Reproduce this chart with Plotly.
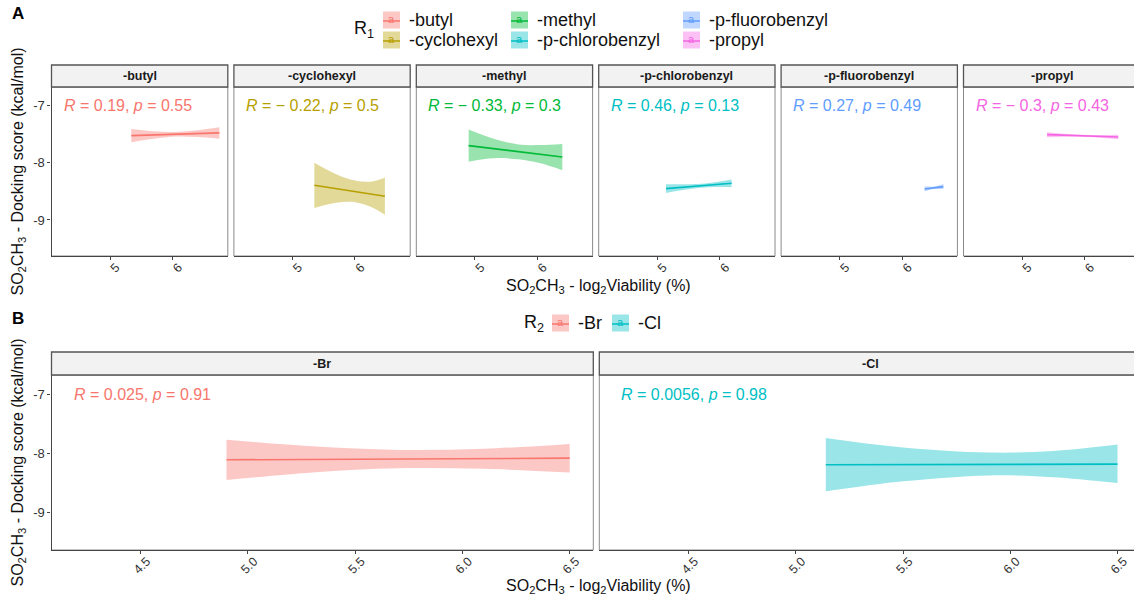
import plotly.graph_objects as go

W, H = 1134, 601

# ---------------- data ----------------
groups_A = ["-butyl", "-cyclohexyl", "-methyl", "-p-chlorobenzyl", "-p-fluorobenzyl", "-propyl"]
colors_A = ["#F8766D", "#B79F00", "#00BA38", "#00BFC4", "#619CFF", "#F564E3"]
R_A = ["0.19", "\u2212 0.22", "\u2212 0.33", "0.46", "0.27", "\u2212 0.3"]
p_A = ["0.55", "0.5", "0.3", "0.13", "0.49", "0.43"]

butyl_x   = [5.34, 5.70, 6.05, 6.40, 6.75]
butyl_fit = [-7.525, -7.513, -7.500, -7.490, -7.478]
butyl_lo  = [-7.64, -7.58, -7.54, -7.55, -7.58]
butyl_hi  = [-7.41, -7.45, -7.46, -7.43, -7.38]

cyclohexyl_x   = [5.35, 5.70, 6.00, 6.25, 6.48]
cyclohexyl_fit = [-8.393, -8.452, -8.503, -8.546, -8.585]
cyclohexyl_lo  = [-8.79, -8.70, -8.69, -8.77, -8.91]
cyclohexyl_hi  = [-8.00, -8.20, -8.31, -8.33, -8.26]

methyl_x   = [4.90, 5.30, 5.70, 6.05, 6.40]
methyl_fit = [-7.700, -7.753, -7.807, -7.853, -7.900]
methyl_lo  = [-7.98, -7.92, -7.94, -8.01, -8.13]
methyl_hi  = [-7.42, -7.58, -7.68, -7.69, -7.67]

pchloro_x   = [5.14, 5.50, 5.70, 5.95, 6.19]
pchloro_fit = [-8.452, -8.420, -8.402, -8.380, -8.358]
pchloro_lo  = [-8.527, -8.465, -8.437, -8.425, -8.423]
pchloro_hi  = [-8.377, -8.375, -8.367, -8.335, -8.293]

pfluoro_x   = [6.36, 6.51, 6.66]
pfluoro_fit = [-8.458, -8.437, -8.417]
pfluoro_lo  = [-8.50, -8.46, -8.46]
pfluoro_hi  = [-8.41, -8.415, -8.37]

propyl_x   = [5.40, 5.97, 6.54]
propyl_fit = [-7.507, -7.528, -7.548]
propyl_lo  = [-7.555, -7.544, -7.588]
propyl_hi  = [-7.465, -7.512, -7.512]

groups_B = ["-Br", "-Cl"]
colors_B = ["#F8766D", "#00BFC4"]
R_B = ["0.025", "0.0056"]
p_B = ["0.91", "0.98"]

br_x   = [4.90, 5.30, 5.70, 6.10, 6.50]
br_fit = [-8.107, -8.100, -8.093, -8.086, -8.079]
br_lo  = [-8.45, -8.32, -8.25, -8.26, -8.32]
br_hi  = [-7.77, -7.88, -7.94, -7.92, -7.84]

cl_x   = [5.14, 5.50, 5.90, 6.20, 6.50]
cl_fit = [-8.190, -8.187, -8.184, -8.182, -8.180]
cl_lo  = [-8.64, -8.47, -8.37, -8.40, -8.50]
cl_hi  = [-7.74, -7.90, -7.985, -7.96, -7.85]

yticks = [-9, -8, -7]
yticklabels = ["-9", "-8", "-7"]
xticks_A = [5, 6]
xticklabels_A = ["5", "6"]
xticks_B = [4.5, 5.0, 5.5, 6.0, 6.5]
xticklabels_B = ["4.5", "5.0", "5.5", "6.0", "6.5"]

data_A = [
    (butyl_x, butyl_fit, butyl_lo, butyl_hi),
    (cyclohexyl_x, cyclohexyl_fit, cyclohexyl_lo, cyclohexyl_hi),
    (methyl_x, methyl_fit, methyl_lo, methyl_hi),
    (pchloro_x, pchloro_fit, pchloro_lo, pchloro_hi),
    (pfluoro_x, pfluoro_fit, pfluoro_lo, pfluoro_hi),
    (propyl_x, propyl_fit, propyl_lo, propyl_hi),
]
data_B = [
    (br_x, br_fit, br_lo, br_hi),
    (cl_x, cl_fit, cl_lo, cl_hi),
]

# ---------------- layout geometry (pixels) ----------------
FONT = "Liberation Sans, Arial, sans-serif"
XR_A = [4.062, 6.885]
XR_B = [4.084, 6.61]
YR = [-9.63, -6.675]

A_top, A_bot, A_strip = 87, 256, 65
B_top, B_bot, B_strip = 375, 550, 352
left0 = 51.5
wA, stepA = 176.3, 182.4
wB, stepB = 541.8, 547.8


def px(x):
    return x / W


def py(y):
    return 1 - y / H


def rgba(hexc, a):
    h = hexc.lstrip("#")
    r, g, b = int(h[0:2], 16), int(h[2:4], 16), int(h[4:6], 16)
    return f"rgba({r},{g},{b},{a})"


panels = []
for i, g in enumerate(groups_A):
    x0 = left0 + i * stepA
    panels.append(dict(x0=x0, x1=x0 + wA, top=A_top, bot=A_bot, strip=A_strip,
                       xr=XR_A, label=g, color=colors_A[i], R=R_A[i], p=p_A[i],
                       data=data_A[i], xt=xticks_A, xtl=xticklabels_A, first=(i == 0),
                       lblx=10))
for i, g in enumerate(groups_B):
    x0 = left0 + i * stepB
    panels.append(dict(x0=x0, x1=x0 + wB, top=B_top, bot=B_bot, strip=B_strip,
                       xr=XR_B, label=g, color=colors_B[i], R=R_B[i], p=p_B[i],
                       data=data_B[i], xt=xticks_B, xtl=xticklabels_B, first=(i == 0),
                       lblx=20))

fig = go.Figure()
layout = dict(
    width=W, height=H, margin=dict(l=0, r=0, t=0, b=0),
    paper_bgcolor="white", plot_bgcolor="white", showlegend=False,
    font=dict(family=FONT, color="#222"),
)
shapes = []
annotations = []

for k, P in enumerate(panels):
    n = k + 1
    xa = f"x{n}" if n > 1 else "x"
    ya = f"y{n}" if n > 1 else "y"
    x1c = min(P["x1"], W)
    ppu = (P["x1"] - P["x0"]) / (P["xr"][1] - P["xr"][0])
    xr = [P["xr"][0], P["xr"][0] + (x1c - P["x0"]) / ppu]
    layout[f"xaxis{n}"] = dict(
        domain=[px(P["x0"]), px(x1c)], anchor=ya, range=xr,
        showgrid=False, zeroline=False, showline=True, linecolor="#444", linewidth=1.3,
        ticks="outside", ticklen=3, tickcolor="#444", tickwidth=1,
        tickvals=P["xt"], ticktext=P["xtl"], tickangle=-45,
        ticklabelstandoff=-5, ticklabelshift=6,
        tickfont=dict(size=12.5, color="#333", family=FONT),
    )
    ydict = dict(
        domain=[py(P["bot"]), py(P["top"])], anchor=xa, range=YR,
        showgrid=False, zeroline=False,
        showline=P["first"], linecolor="#444", linewidth=1.3,
    )
    if P["first"]:
        ydict.update(ticks="outside", ticklen=3, tickcolor="#444",
                     tickvals=yticks, ticktext=yticklabels, showticklabels=True,
                     tickfont=dict(size=13, color="#333", family=FONT))
    else:
        ydict.update(ticks="", showticklabels=False)
    layout[f"yaxis{n}"] = ydict

    x, fit, lo, hi = P["data"]
    fig.add_trace(go.Scatter(x=x, y=hi, xaxis=xa, yaxis=ya, mode="lines",
                             line=dict(width=0, shape="spline"), hoverinfo="skip"))
    fig.add_trace(go.Scatter(x=x, y=lo, xaxis=xa, yaxis=ya, mode="lines",
                             line=dict(width=0, shape="spline"), fill="tonexty",
                             fillcolor=rgba(P["color"], 0.4), hoverinfo="skip"))
    fig.add_trace(go.Scatter(x=x, y=fit, xaxis=xa, yaxis=ya, mode="lines",
                             line=dict(width=1.6, color=P["color"]), hoverinfo="skip"))
    # panel border
    shapes.append(dict(type="rect", xref="paper", yref="paper",
                       x0=px(P["x0"]), x1=px(P["x1"]), y0=py(P["bot"]), y1=py(P["top"]),
                       line=dict(color="#8a8a8a", width=1), layer="below"))
    # strip
    shapes.append(dict(type="rect", xref="paper", yref="paper",
                       x0=px(P["x0"]), x1=px(P["x1"]), y0=py(P["top"]), y1=py(P["strip"]),
                       fillcolor="#F2F2F2", line=dict(color="#555", width=1.3)))
    annotations.append(dict(xref="paper", yref="paper",
                            x=px((P["x0"] + P["x1"]) / 2), y=py((P["top"] + P["strip"]) / 2),
                            text=f"<b>{P['label']}</b>", showarrow=False,
                            font=dict(size=12.5, color="#1a1a1a", family=FONT),
                            xanchor="center", yanchor="middle"))
    # correlation label
    annotations.append(dict(xref="paper", yref=ya, x=px(P["x0"] + P["lblx"]), y=-7,
                            text=f"<i>R</i> = {P['R']}, <i>p</i> = {P['p']}",
                            showarrow=False, xanchor="left", yanchor="middle",
                            font=dict(size=16, color=P["color"], family=FONT)))

# axis titles
ytitle = "SO<sub>2</sub>CH<sub>3</sub> - Docking score (kcal/mol)"
xtitle = "SO<sub>2</sub>CH<sub>3</sub> - log<sub>2</sub>Viability (%)"
for yc in [(A_top + A_bot) / 2, (B_top + B_bot) / 2]:
    annotations.append(dict(xref="paper", yref="paper", x=px(18), y=py(yc), text=ytitle,
                            textangle=-90, showarrow=False, xanchor="center", yanchor="middle",
                            font=dict(size=16, color="#111", family=FONT)))
for yc in [286, 586]:
    annotations.append(dict(xref="paper", yref="paper", x=px(598), y=py(yc), text=xtitle,
                            showarrow=False, xanchor="center", yanchor="middle",
                            font=dict(size=16, color="#111", family=FONT)))

# panel tags
annotations.append(dict(xref="paper", yref="paper", x=px(10), y=py(14), text="<b>A</b>",
                        showarrow=False, xanchor="left", yanchor="middle",
                        font=dict(size=17, color="#000", family=FONT)))
annotations.append(dict(xref="paper", yref="paper", x=px(10), y=py(318), text="<b>B</b>",
                        showarrow=False, xanchor="left", yanchor="middle",
                        font=dict(size=17, color="#000", family=FONT)))


# manual legends
def legend_key(xl, yc, color, label):
    s = 17
    shapes.append(dict(type="rect", xref="paper", yref="paper",
                       x0=px(xl), x1=px(xl + s), y0=py(yc + s / 2), y1=py(yc - s / 2),
                       fillcolor=rgba(color, 0.4), line=dict(width=0)))
    shapes.append(dict(type="line", xref="paper", yref="paper",
                       x0=px(xl), x1=px(xl + s), y0=py(yc + 1), y1=py(yc + 1),
                       line=dict(color=color, width=1.5)))
    annotations.append(dict(xref="paper", yref="paper", x=px(xl + s / 2), y=py(yc - 1),
                            text="a", showarrow=False, xanchor="center", yanchor="middle",
                            font=dict(size=11, color=color, family=FONT)))
    annotations.append(dict(xref="paper", yref="paper", x=px(xl + s + 7), y=py(yc),
                            text=label, showarrow=False, xanchor="left", yanchor="middle",
                            font=dict(size=18, color="#111", family=FONT)))


annotations.append(dict(xref="paper", yref="paper", x=px(352), y=py(30), text="R<sub>1</sub>",
                        showarrow=False, xanchor="left", yanchor="middle",
                        font=dict(size=18, color="#111", family=FONT)))
colx = [383, 511, 683]
for i, g in enumerate(groups_A):
    legend_key(colx[i // 2], 20 + 20 * (i % 2), colors_A[i], g)

annotations.append(dict(xref="paper", yref="paper", x=px(522), y=py(323), text="R<sub>2</sub>",
                        showarrow=False, xanchor="left", yanchor="middle",
                        font=dict(size=18, color="#111", family=FONT)))
legend_key(552, 323, colors_B[0], groups_B[0])
legend_key(612, 323, colors_B[1], groups_B[1])

layout["shapes"] = shapes
layout["annotations"] = annotations
fig.update_layout(**layout)
fig.write_html("out.html")
